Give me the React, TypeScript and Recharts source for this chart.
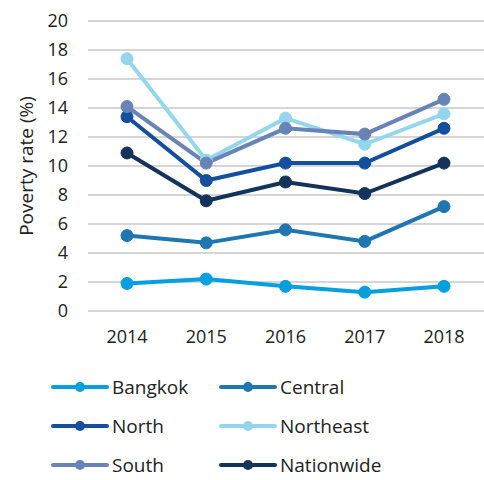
import { LineChart, Line, XAxis, YAxis, CartesianGrid } from 'recharts';

const years = ['2014', '2015', '2016', '2017', '2018'];
const bangkok = [1.9, 2.2, 1.7, 1.3, 1.7];
const central = [5.2, 4.7, 5.6, 4.8, 7.2];
const north = [13.4, 9.0, 10.2, 10.2, 12.6];
const northeast = [17.4, 10.4, 13.3, 11.5, 13.6];
const south = [14.1, 10.2, 12.6, 12.2, 14.6];
const nationwide = [10.9, 7.6, 8.9, 8.1, 10.2];
const yTicks = [0, 2, 4, 6, 8, 10, 12, 14, 16, 18, 20];

const series = [
  { key: 'bangkok', name: 'Bangkok', values: bangkok, color: '#049fdf' },
  { key: 'central', name: 'Central', values: central, color: '#1f76b0' },
  { key: 'north', name: 'North', values: north, color: '#134f9e' },
  { key: 'northeast', name: 'Northeast', values: northeast, color: '#93d7ee' },
  { key: 'south', name: 'South', values: south, color: '#6884b6' },
  { key: 'nationwide', name: 'Nationwide', values: nationwide, color: '#13335b' },
];

const data = years.map((year, i) => {
  const row: Record<string, string | number> = { year };
  series.forEach((s) => {
    row[s.key] = s.values[i];
  });
  return row;
});

const FONT = '"Open Sans", sans-serif';

// legend drawn outside the chart so it does not eat the plot height
const ChartLegend = () => (
  <div
    style={{
      position: 'absolute',
      left: 49,
      top: 377,
      display: 'grid',
      gridTemplateColumns: '168px 168px',
      rowGap: 19,
      fontFamily: FONT,
      fontSize: 19,
      lineHeight: '20px',
      color: '#222',
    }}
  >
    {series.map((s) => (
      <div key={s.key} style={{ display: 'flex', alignItems: 'center', height: 20 }}>
        <svg width={63} height={14}>
          <line x1={4} y1={7} x2={58} y2={7} stroke={s.color} strokeWidth={4} strokeLinecap="round" />
          <circle cx={31} cy={7} r={5} fill={s.color} />
        </svg>
        <span>{s.name}</span>
      </div>
    ))}
  </div>
);

const App = () => {
  return (
    <div style={{ position: 'absolute', left: 0, top: 0, width: 484, height: 480, background: '#fff' }}>
      <LineChart width={484} height={480} data={data} margin={{ top: 21, right: 0, left: 0, bottom: 129 }}>
        <CartesianGrid vertical={false} stroke="#d6d6d6" strokeWidth={2} />
        <XAxis
          dataKey="year"
          axisLine={false}
          tickLine={false}
          tickSize={0}
          tickMargin={19}
          height={40}
          padding={{ left: 39, right: 40 }}
          tick={{ fill: '#222', fontSize: 18, fontFamily: FONT }}
        />
        <YAxis
          domain={[0, 20]}
          ticks={yTicks}
          interval={0}
          width={88}
          axisLine={false}
          tickLine={false}
          tickSize={0}
          tickMargin={20}
          tick={{ fill: '#222', fontSize: 18, fontFamily: FONT }}
          label={{
            value: 'Poverty rate (%)',
            angle: -90,
            position: 'insideLeft',
            offset: 26,
            style: { textAnchor: 'middle', fill: '#222', fontSize: 19, fontFamily: FONT },
          }}
        />
        {series.map((s) => (
          <Line
            key={s.key}
            type="linear"
            dataKey={s.key}
            name={s.name}
            stroke={s.color}
            strokeWidth={4}
            dot={{ r: 6, fill: s.color, stroke: s.color, strokeWidth: 1 }}
            activeDot={false}
            isAnimationActive={false}
          />
        ))}
      </LineChart>
      <ChartLegend />
    </div>
  );
};

export default App;
